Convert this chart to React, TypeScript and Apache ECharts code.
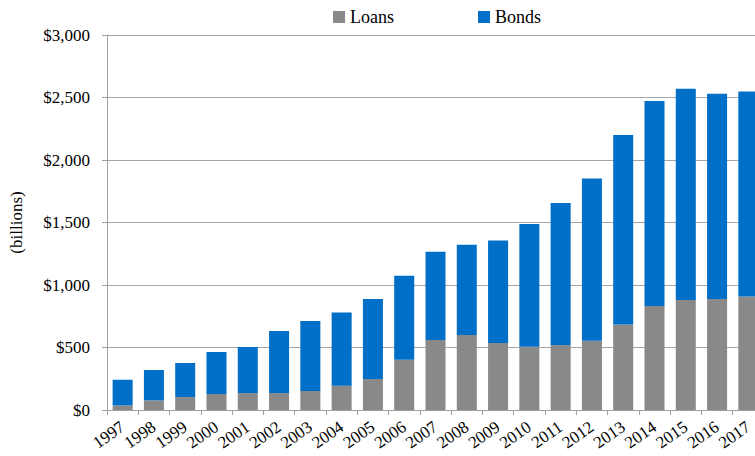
import React, { useEffect, useRef } from "react";
import * as echarts from "echarts";

const years = ["1997","1998","1999","2000","2001","2002","2003","2004","2005","2006","2007","2008","2009","2010","2011","2012","2013","2014","2015","2016","2017"];
const loans = [37, 77, 104, 128, 136, 136, 152, 195, 248, 403, 560, 600, 536, 507, 520, 555, 685, 832, 880, 888, 909];
const totals = [243, 320, 376, 464, 504, 632, 712, 781, 888, 1075, 1267, 1323, 1357, 1488, 1656, 1853, 2200, 2472, 2571, 2531, 2549];
const bonds = totals.map((t, i) => t - loans[i]);
const yTicks = [0, 500, 1000, 1500, 2000, 2500, 3000];

const FONT = "Liberation Serif";

export default function App() {
  const ref = useRef<HTMLDivElement>(null);
  useEffect(() => {
    const chart = echarts.init(ref.current!, undefined, { renderer: "svg" });
    chart.setOption({
      animation: false,
      textStyle: { fontFamily: FONT },
      legend: {
        left: 333,
        top: 8,
        padding: 0,
        itemWidth: 12,
        itemHeight: 12,
        itemGap: 84,
        icon: "rect",
        textStyle: { fontFamily: FONT, fontSize: 18, color: "#000" },
        data: ["Loans", "Bonds"],
      },
      grid: { left: 107, top: 35, width: 657, bottom: 46, containLabel: false, outerBoundsMode: "none" },
      xAxis: {
        type: "category",
        data: years,
        axisLine: { lineStyle: { color: "#a0a0a0" } },
        axisTick: { show: true, length: 5, lineStyle: { color: "#a0a0a0" } },
        axisLabel: { rotate: 35, interval: 0, margin: 15, fontSize: 17, color: "#000", fontFamily: FONT },
      },
      yAxis: {
        type: "value",
        min: 0,
        max: 3000,
        interval: 500,
        name: "(billions)",
        nameLocation: "middle",
        nameGap: 82,
        nameTextStyle: { fontFamily: FONT, fontSize: 17, color: "#000" },
        axisLine: { show: true, lineStyle: { color: "#a0a0a0" } },
        axisTick: { show: true, length: 5, lineStyle: { color: "#a0a0a0" } },
        axisLabel: {
          margin: 17,
          fontSize: 17,
          color: "#000",
          fontFamily: FONT,
          formatter: (v: number) => (yTicks.includes(v) ? "$" + v.toLocaleString("en-US") : ""),
        },
        splitLine: { lineStyle: { color: "#a6a6a6" } },
      },
      series: [
        {
          name: "Loans",
          type: "bar",
          stack: "total",
          data: loans,
          barCategoryGap: "36%",
          itemStyle: { color: "#898989" },
        },
        {
          name: "Bonds",
          type: "bar",
          stack: "total",
          data: bonds,
          barCategoryGap: "36%",
          itemStyle: { color: "#006fc8" },
        },
      ],
    });
    return () => chart.dispose();
  }, []);
  return <div ref={ref} style={{ position: "absolute", left: 0, top: 0, width: 755, height: 456 }} />;
}
